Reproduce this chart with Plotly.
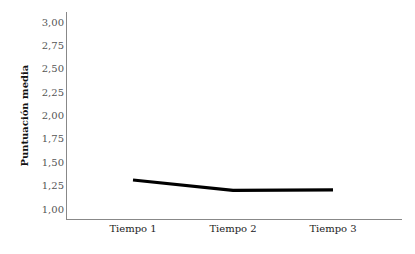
import plotly.graph_objects as go

categories = ["Tiempo 1", "Tiempo 2", "Tiempo 3"]
values = [1.31, 1.20, 1.205]
y_ticks = [1.00, 1.25, 1.50, 1.75, 2.00, 2.25, 2.50, 2.75, 3.00]

fig = go.Figure()
fig.add_trace(go.Scatter(
    x=list(range(len(categories))), y=values, mode="lines",
    line=dict(color="black", width=3.2, shape="linear"),
    showlegend=False, hoverinfo="skip",
))

font_family = "DejaVu Serif"
fig.update_layout(
    width=407, height=246,
    margin=dict(l=59, r=13, t=4, b=35),
    paper_bgcolor="white", plot_bgcolor="white",
    separators=",.",
    font=dict(family=font_family, size=10, color="#222"),
    xaxis=dict(
        range=[-0.66, 2.69], tickmode="array",
        tickvals=list(range(len(categories))), ticktext=categories,
        showgrid=False, zeroline=False, showline=True, linecolor="#888",
        linewidth=1, ticks="", tickfont=dict(family=font_family, size=10, color="#222"),
    ),
    yaxis=dict(
        range=[0.893, 3.107], tickmode="array", tickvals=y_ticks,
        tickformat=".2f", showgrid=False, zeroline=False, showline=True,
        linecolor="#888", linewidth=1, ticks="",
        tickfont=dict(family=font_family, size=10, color="#555"),
    ),
    annotations=[dict(
        text="<b>Puntuación media</b>", xref="paper", yref="paper",
        x=-0.128, y=0.5, xanchor="center", yanchor="middle",
        textangle=-90, showarrow=False,
        font=dict(family=font_family, size=10, color="#111"),
    )],
)

fig.write_html("out.html")
